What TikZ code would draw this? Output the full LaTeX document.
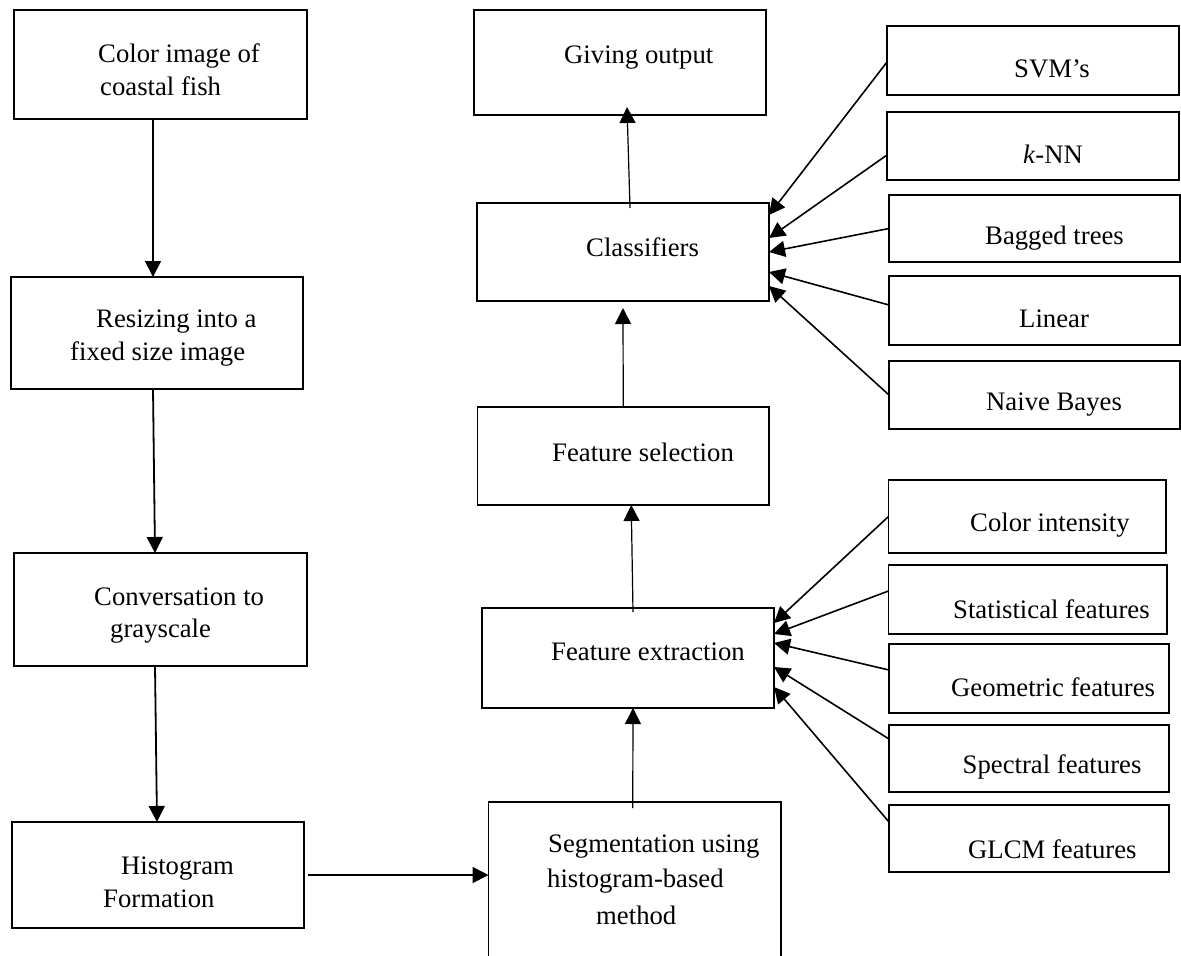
\documentclass[tikz,border=0pt]{standalone}
\usepackage{fontspec}
\setmainfont{Liberation Serif}
\usetikzlibrary{arrows.meta}
\tikzset{
  box/.style={draw, line width=1.8pt, inner sep=0pt, outer sep=0pt},
  txt/.style={inner sep=0pt, anchor=west, font=\fontsize{26.7}{32}\selectfont},
  thickarrow/.style={line width=1.8pt, -{Triangle[length=16pt 0 0,width=16pt 0 0]}},
  thinarrow/.style={line width=1.2pt, -{Triangle[length=16pt 0 0,width=16pt 0 0]}},
  fanarrow/.style={line width=1.6pt, -{Triangle[length=16pt 0 0,width=16pt 0 0]}},
}
\begin{document}
\begin{tikzpicture}[x=1pt,y=-1pt]
\useasboundingbox (0,0) rectangle (1181,956);
\clip (0,0) rectangle (1181,956);
% left column
\node[box, minimum width=293pt, minimum height=109pt] (b1) at (160.5,64.5) {};
\node[box, minimum width=292pt, minimum height=112pt] (b2) at (157,333) {};
\node[box, minimum width=293pt, minimum height=113pt] (b3) at (160.5,609.5) {};
\node[box, minimum width=292pt, minimum height=106pt] (b4) at (158,875) {};
\node[txt] (t1a) at (98,56) {Color image of};
\node[txt] (t1b) at (100,86) {coastal fish};
\node[txt] (t2a) at (96,322) {Resizing into a};
\node[txt] (t2b) at (70,354) {fixed size image};
\node[txt] (t3a) at (94,597) {Conversation to};
\node[txt] (t3b) at (110,631) {grayscale};
\node[txt] (t4a) at (121,869) {Histogram};
\node[txt] (t4b) at (103,899) {Formation};
% middle column
\node[box, minimum width=292pt, minimum height=105pt] (go) at (620,62.5) {};
\node[box, minimum width=292pt, minimum height=98pt] (cls) at (623,252) {};
\node[box, minimum width=291.5pt, minimum height=98pt] (fs) at (623.25,456) {};
\node[box, minimum width=292pt, minimum height=100pt] (fe) at (628,658) {};
\node[box, minimum width=292.5pt, minimum height=208pt] (seg) at (634.75,906) {};
\node[txt] (tgo) at (564,58) {Giving output};
\node[txt] (tcls) at (586,247) {Classifiers};
\node[txt] (tfs) at (552,452) {Feature selection};
\node[txt] (tfe) at (551,652) {Feature extraction};
\node[txt] (tsa) at (548,847) {Segmentation using};
\node[txt] (tsb) at (547,881) {histogram-based};
\node[txt] (tsc) at (596,915) {method};
% right column (classifiers)
\node[box, minimum width=292pt, minimum height=69pt] (svm) at (1033,60.5) {};
\node[box, minimum width=292pt, minimum height=68pt] (knn) at (1033,146) {};
\node[box, minimum width=291pt, minimum height=67pt] (bag) at (1034.5,228.5) {};
\node[box, minimum width=291pt, minimum height=69pt] (lin) at (1034.5,310.5) {};
\node[box, minimum width=291pt, minimum height=68pt] (nb) at (1034.5,395) {};
\node[txt] (tsvm) at (1014,69) {SVM’s};
\node[txt] (tknn) at (1023,154) {\textit{k}-NN};
\node[txt] (tbag) at (985,238) {Bagged trees};
\node[txt] (tlin) at (1019,319) {Linear};
\node[txt] (tnb) at (986,405) {Naive Bayes};
% right column (features)
\node[box, minimum width=277.5pt, minimum height=73pt] (ci) at (1027.25,516.5) {};
\node[box, minimum width=278.5pt, minimum height=69pt] (st) at (1027.75,599.5) {};
\node[box, minimum width=280pt, minimum height=69pt] (geo) at (1029,678.5) {};
\node[box, minimum width=280pt, minimum height=67pt] (spec) at (1029,758.5) {};
\node[box, minimum width=280pt, minimum height=67pt] (glcm) at (1029,838.5) {};
\node[txt] (tci) at (970,525) {Color intensity};
\node[txt] (tst) at (953,609) {Statistical features};
\node[txt] (tgeo) at (951,687) {Geometric features};
\node[txt] (tspec) at (962.5,767) {Spectral features};
\node[txt] (tglcm) at (968,849) {GLCM features};
% left arrows
\draw[thickarrow] ([xshift=-7.5pt]b1.south) -- ([xshift=-4pt]b2.north);
\draw[thickarrow] ([xshift=-4pt]b2.south) -- ([xshift=-5.5pt]b3.north);
\draw[thickarrow] ([xshift=-5.5pt]b3.south) -- ([xshift=-1pt]b4.north);
\draw[thickarrow, shorten <=4pt] (b4.east) -- (b4.east -| seg.west);
% middle arrows
\draw[thinarrow] ([xshift=-2pt,yshift=-6pt]seg.north) -- ([xshift=5pt]fe.south);
\draw[thinarrow] ([xshift=5pt,yshift=-4pt]fe.north) -- ([xshift=8pt]fs.south);
\draw[thinarrow] (fs.north) -- ([yshift=-7pt]cls.south);
\draw[thinarrow] ([xshift=7pt,yshift=-5pt]cls.north) -- ([xshift=7pt,yshift=8pt]go.south);
% classifier fan
\draw[fanarrow] ([yshift=-1.5pt]svm.west) -- ([yshift=37pt]cls.east);
\draw[fanarrow] ([yshift=-9pt]knn.west) -- ([yshift=14pt]cls.east);
\draw[fanarrow] (bag.west) -- (cls.east);
\draw[fanarrow] ([yshift=5.5pt]lin.west) -- ([yshift=-20pt]cls.east);
\draw[fanarrow] (nb.west) -- ([yshift=-34pt]cls.east);
% feature fan
\draw[fanarrow] (ci.west) -- ([yshift=35pt]fe.east);
\draw[fanarrow] ([yshift=8.5pt]st.west) -- ([yshift=24pt]fe.east);
\draw[fanarrow] ([yshift=8.5pt]geo.west) -- ([yshift=15pt]fe.east);
\draw[fanarrow] ([yshift=19.5pt]spec.west) -- ([yshift=-9pt]fe.east);
\draw[fanarrow] ([yshift=16.5pt]glcm.west) -- ([yshift=-29pt]fe.east);
\end{tikzpicture}
\end{document}
